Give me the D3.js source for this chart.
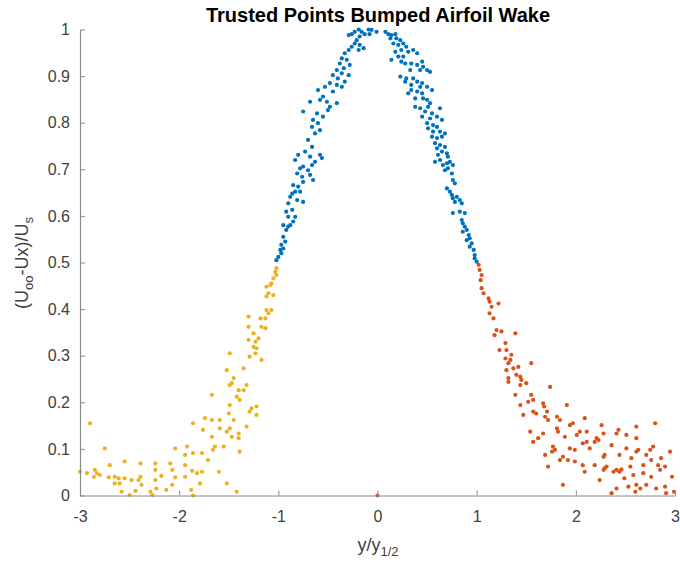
<!DOCTYPE html>
<html><head><meta charset="utf-8">
<script src="https://cdn.jsdelivr.net/npm/d3@7"></script>
<style>
html,body{margin:0;padding:0;background:#fff;}
svg text{font-family:"Liberation Sans",Arial,Helvetica,sans-serif;}
</style></head>
<body>
<svg id="chart" width="680" height="565"></svg>
<script>
// ---- data ----
const title = "Trusted Points Bumped Airfoil Wake";
const xTicks = [-3,-2,-1,0,1,2,3];
const yTicks = [0,0.1,0.2,0.3,0.4,0.5,0.6,0.7,0.8,0.9,1];

// central region (blue)
const centerPts = [
[-0.29,0.988],[-0.26,0.99],[-0.23,0.995],[-0.19,1.0],[-0.16,0.995],[-0.13,0.99],[-0.09,1.0],[-0.08,0.99],[-0.18,0.985],[-0.21,0.977],[-0.23,0.97],[-0.18,0.967],[-0.19,0.956],[-0.14,0.96],[-0.26,0.963],[-0.29,0.956],[-0.33,0.949],[-0.36,0.938],[-0.31,0.935],[-0.38,0.927],[-0.28,0.924],[-0.34,0.917],[-0.41,0.913],[-0.45,0.902],[-0.36,0.906],[-0.29,0.902],[-0.40,0.895],[-0.48,0.885],[-0.41,0.881],[-0.36,0.877],[-0.33,0.888],[-0.45,0.867],[-0.53,0.877],[-0.60,0.870],[-0.55,0.856],[-0.51,0.845],[-0.41,0.842],[-0.48,0.834],[-0.58,0.849],[-0.61,0.820],[-0.55,0.813],[-0.50,0.827],[-0.68,0.845],[-0.75,0.824],[-0.65,0.806],[-0.60,0.799],[-0.66,0.791],[-0.58,0.784],[-0.63,0.777],[-0.70,0.763],[-0.66,0.748],[-0.80,0.731],[-0.68,0.727],[-0.58,0.731],[-0.73,0.738],
[-0.83,0.720],[-0.56,0.724],[-0.63,0.716],[-0.66,0.709],[-0.75,0.706],[-0.78,0.702],[-0.70,0.698],[-0.81,0.691],[-0.76,0.684],[-0.68,0.688],[-0.65,0.677],[-0.75,0.673],[-0.85,0.666],[-0.80,0.663],[-0.86,0.648],[-0.83,0.652],[-0.78,0.652],[-0.88,0.641],[-0.81,0.634],[-0.75,0.630],[-0.90,0.627],[-0.92,0.609],[-0.86,0.613],[-0.90,0.598],[-0.83,0.598],[-0.85,0.588],[-0.95,0.580],[-0.92,0.570],[-0.90,0.577],[-0.88,0.580],[-0.95,0.555],[-0.93,0.545],[-0.97,0.538],[-0.98,0.527],[-0.95,0.530],[-1.00,0.512],[-0.97,0.520],[-1.02,0.505],
[-0.06,0.999],[-0.01,0.995],[0.08,0.995],[0.11,0.99],[0.14,0.988],[0.18,0.99],[0.13,0.981],[0.19,0.981],[0.23,0.977],[0.16,0.970],[0.21,0.967],[0.26,0.970],[0.29,0.963],[0.24,0.956],[0.31,0.952],[0.36,0.956],[0.40,0.949],[0.18,0.952],[0.21,0.942],[0.26,0.942],[0.14,0.935],[0.24,0.931],[0.28,0.927],[0.34,0.927],[0.40,0.924],[0.45,0.931],[0.46,0.920],[0.43,0.913],[0.50,0.913],[0.33,0.913],[0.53,0.909],[0.23,0.899],[0.29,0.895],[0.36,0.895],[0.28,0.888],[0.40,0.888],[0.45,0.885],[0.34,0.881],[0.43,0.877],[0.50,0.877],[0.55,0.870],[0.40,0.867],[0.34,0.870],[0.45,0.863],[0.31,0.863],[0.38,0.852],[0.46,0.852],[0.50,0.849],[0.53,0.842],[0.38,0.834],[0.43,0.831],[0.51,0.834],[0.63,0.831],[0.48,0.824],[0.55,0.820],[0.45,0.813],[0.53,0.809],[0.60,0.813],[0.65,0.806],[0.50,0.799],[0.56,0.795],[0.60,0.791],[0.51,0.788],[0.56,0.781],[0.63,0.781],[0.68,0.777],[0.55,0.770],[0.60,0.767],[0.65,0.770],[0.58,0.756],[0.63,0.752],[0.68,0.748],[0.60,0.745],[0.65,0.738],[0.70,0.734],[0.61,0.731],[0.71,0.727],
[0.58,0.716],[0.63,0.720],[0.66,0.709],[0.70,0.713],[0.73,0.716],[0.76,0.709],[0.71,0.702],[0.68,0.698],[0.75,0.691],[0.76,0.677],[0.78,0.670],[0.70,0.659],[0.73,0.652],[0.75,0.645],[0.76,0.638],[0.80,0.641],[0.83,0.634],[0.78,0.630],[0.85,0.627],[0.76,0.606],[0.83,0.609],[0.88,0.606],[0.85,0.591],[0.86,0.584],[0.88,0.577],[0.90,0.570],[0.86,0.566],[0.92,0.559],[0.93,0.552],[0.90,0.548],[0.95,0.541],[0.93,0.534],[0.97,0.527],[0.98,0.516],[0.98,0.509],[1.00,0.502]
];

// left tail (yellow)
const leftPts = [
[-1.02,0.488],[-1.03,0.480],[-1.02,0.473],[-1.05,0.466],[-1.07,0.455],[-1.12,0.448],[-1.08,0.452],[-1.10,0.434],[-1.12,0.427],[-1.05,0.430],[-1.12,0.398],[-1.07,0.398],[-1.10,0.391],[-1.18,0.380],[-1.13,0.380],[-1.30,0.384],[-1.17,0.362],[-1.13,0.359],[-1.30,0.362],[-1.25,0.348],[-1.20,0.337],[-1.30,0.334],[-1.23,0.330],[-1.25,0.319],[-1.22,0.316],[-1.23,0.305],[-1.29,0.298],[-1.17,0.291],[-1.49,0.305],[-1.35,0.273],[-1.52,0.269],[-1.45,0.252],
[-1.47,0.241],[-1.49,0.237],[-1.32,0.237],[-1.40,0.226],[-1.35,0.226],[-1.42,0.212],[-1.39,0.205],[-1.67,0.216],[-1.49,0.194],[-1.50,0.176],[-1.29,0.180],[-1.22,0.191],[-1.27,0.187],[-1.22,0.173],[-1.45,0.162],[-1.59,0.162],[-1.67,0.162],[-1.74,0.166],[-1.86,0.155],[-1.76,0.141],[-1.59,0.144],[-1.49,0.144],[-1.52,0.137],[-1.47,0.126],[-1.40,0.133],[-1.40,0.123],[-1.67,0.126],[-1.32,0.148],[-2.90,0.155],[-2.75,0.101],[-2.04,0.101],[-1.64,0.105],[-1.66,0.098],[-1.55,0.105],[-1.39,0.094],[-1.92,0.105],[-1.86,0.091],[-1.77,0.091],[-1.94,0.087],[-1.71,0.076],[-2.55,0.073],[-2.39,0.069],[-2.70,0.065],[-2.09,0.069],[-1.94,0.065],[-2.24,0.069],[-2.24,0.055],[-2.07,0.055],[-1.87,0.053],[-1.82,0.048],[-1.77,0.051],[-1.60,0.051],[-3.00,0.051],[-2.93,0.048],[-2.85,0.055],[-2.83,0.048],[-2.80,0.044],[-2.86,0.040],[-2.71,0.039],[-2.65,0.040],[-2.61,0.037],[-2.55,0.037],[-2.65,0.026],[-2.60,0.026],[-2.39,0.040],[-2.48,0.033],[-2.41,0.033],[-2.24,0.033],[-2.18,0.042],[-2.04,0.039],[-1.94,0.040],[-2.38,0.023],[-2.23,0.015],[-2.13,0.012],[-2.58,0.008],[-2.50,0.001],[-2.44,0.010],[-2.29,0.008],[-2.27,0.001],[-2.07,0.023],[-1.88,0.012],[-1.79,0.026],[-1.52,0.026],[-1.42,0.008],[-1.86,0.0]
];

// right tail (orange)
const rightPts = [
[1.02,0.495],[1.03,0.484],[1.05,0.473],[1.04,0.462],[1.05,0.445],[1.07,0.434],[1.12,0.423],[1.13,0.416],[1.15,0.405],[1.22,0.412],[1.13,0.391],[1.17,0.380],[1.20,0.355],[1.25,0.352],[1.18,0.344],[1.39,0.348],[1.29,0.327],[1.23,0.312],[1.30,0.312],[1.35,0.302],[1.29,0.294],[1.34,0.291],[1.32,0.284],[1.55,0.284],[1.30,0.269],[1.37,0.273],[1.42,0.276],[1.40,0.259],[1.44,0.255],[1.32,0.252],
[1.45,0.248],[1.32,0.244],[1.44,0.237],[1.50,0.241],[1.74,0.233],[1.39,0.216],[1.55,0.216],[1.52,0.201],[1.57,0.205],[1.44,0.194],[1.67,0.198],[1.68,0.191],[1.91,0.194],[1.57,0.180],[1.60,0.176],[1.47,0.173],[1.71,0.180],[1.69,0.169],[1.72,0.162],[1.81,0.169],[1.84,0.162],[2.09,0.166],[1.94,0.151],[1.97,0.155],[1.81,0.144],[1.82,0.137],[2.26,0.151],[2.61,0.148],[2.80,0.155],[1.54,0.137],[1.67,0.133],[1.62,0.123],[1.57,0.115],[2.04,0.137],[2.11,0.137],[2.01,0.130],[1.89,0.126],[2.28,0.133],[2.43,0.141],[2.41,0.133],[2.51,0.130],[2.61,0.123],[2.21,0.123],[2.23,0.119],[2.19,0.115],[2.11,0.115],[2.07,0.112],[2.36,0.108],[1.77,0.105],[1.79,0.098],[1.94,0.101],[1.99,0.098],[2.14,0.101],[2.51,0.101],[2.61,0.094],[2.63,0.098],[2.75,0.098],[2.78,0.105],[2.95,0.094],[1.76,0.094],[1.69,0.087],[1.84,0.076],[1.87,0.083],[1.92,0.076],[1.99,0.073],[2.29,0.087],[2.28,0.083],[2.44,0.087],[2.56,0.080],[2.71,0.087],[2.86,0.080],[2.76,0.076],[1.72,0.062],[2.07,0.065],[2.19,0.065],[2.29,0.058],[2.31,0.062],[2.41,0.055],[2.46,0.056],[2.55,0.062],[2.68,0.065],[2.83,0.065],[2.90,0.062],[2.09,0.051],[2.28,0.055],[2.38,0.051],[2.44,0.051],[2.58,0.044],[2.68,0.048],[2.76,0.040],[2.85,0.055],[2.97,0.040],[2.49,0.037],[2.24,0.033],[1.87,0.023],[2.41,0.015],[2.53,0.019],[2.61,0.023],[2.65,0.015],[2.71,0.023],[2.81,0.015],[2.90,0.019],[2.36,0.005],[2.60,0.008],[2.91,0.005],[2.99,0.008],[0,0]
];

const seriesColors = ["#EDB120","#D95319","#0072BD"];

// ---- drawing ----
const svg = d3.select("#chart");
const x = d3.scaleLinear().domain([-3,3]).range([80,675]);
const y = d3.scaleLinear().domain([0,1]).range([495.5,29.5]);

const axisColor = "#8a8a8a", labelColor = "#404040";

// points
const groups = [leftPts, rightPts, centerPts];
groups.forEach((pts,i)=>{
  svg.append("g").selectAll("circle").data(pts).join("circle")
    .attr("cx",d=>x(d[0])).attr("cy",d=>y(d[1])).attr("r",2.1)
    .attr("fill",seriesColors[i]);
});

// axes
const gx = svg.append("g").attr("transform","translate(0,495.5)")
  .call(d3.axisBottom(x).tickValues(xTicks).tickSize(-5).tickSizeOuter(0).tickPadding(15).tickFormat(d=>String(d)));
const gy = svg.append("g").attr("transform","translate(80,0)")
  .call(d3.axisLeft(y).tickValues(yTicks).tickSize(-5).tickSizeOuter(0).tickPadding(10).tickFormat(d=>d===0||d===1?String(d):d3.format(".1f")(d)));
[gx,gy].forEach(g=>{
  g.select(".domain").attr("stroke",axisColor).attr("stroke-width",1.2);
  g.selectAll(".tick line").attr("stroke",axisColor);
  g.selectAll(".tick text").attr("fill",labelColor).style("font-size","16px").style("font-family","'Liberation Sans',Arial,sans-serif");
});

// title
svg.append("text").attr("x",378).attr("y",22).attr("text-anchor","middle")
  .style("font-size","20px").style("font-weight","bold").attr("fill","#000").text(title);

// x label
const xl = svg.append("text").attr("x",378).attr("y",551).attr("text-anchor","middle")
  .style("font-size","18px").attr("fill",labelColor);
xl.append("tspan").text("y/y");
xl.append("tspan").attr("dy",5).style("font-size","13px").text("1/2");

// y label
const yl = svg.append("text").attr("transform","translate(28,263) rotate(-90)").attr("text-anchor","middle")
  .style("font-size","18px").attr("fill",labelColor);
yl.append("tspan").text("(U");
yl.append("tspan").attr("dy",5).style("font-size","13px").text("oo");
yl.append("tspan").attr("dy",-5).text("-Ux)/U");
yl.append("tspan").attr("dy",5).style("font-size","13px").text("s");
</script>
</body></html>
